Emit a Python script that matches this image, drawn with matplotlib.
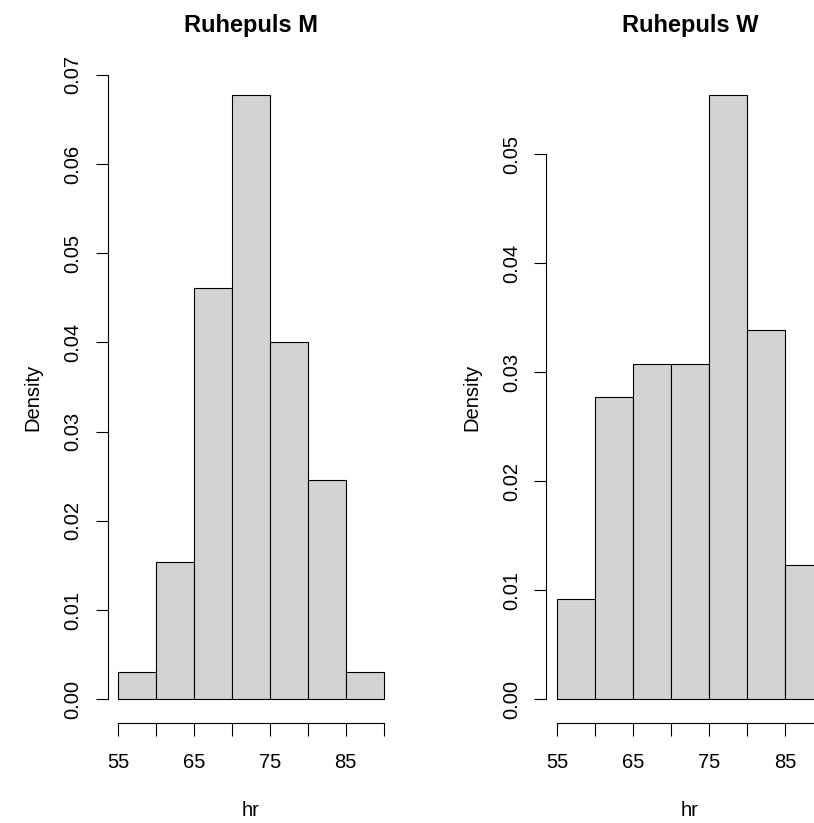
import numpy as np
import matplotlib.pyplot as plt

plt.rcParams['font.family'] = ['Liberation Sans', 'DejaVu Sans']

# Klassengrenzen und Haeufigkeiten (Ruhepuls, n = 65 je Gruppe)
edges = [55, 60, 65, 70, 75, 80, 85, 90]
counts_m = [1, 5, 15, 22, 13, 8, 1]
counts_w = [3, 9, 10, 10, 18, 11, 4]
xticks = [55, 60, 65, 70, 75, 80, 85, 90]
xlabels = ['55', '', '65', '', '75', '', '85', '']
yticks_m = [0.00, 0.01, 0.02, 0.03, 0.04, 0.05, 0.06, 0.07]
yticks_w = [0.00, 0.01, 0.02, 0.03, 0.04, 0.05]

fig = plt.figure(figsize=(8.14, 8.23), dpi=100)

def r_hist(rect, counts, yticks, title):
    ax = fig.add_axes(rect)
    ax.hist(edges[:-1], bins=edges, weights=counts, density=True,
            facecolor='#D3D3D3', edgecolor='black', linewidth=0.8)
    dens_max = max(counts) / (sum(counts) * 5)
    ax.set_xlim(55 - 1.4, 90 + 1.4)
    ax.set_ylim(-0.04 * dens_max, dens_max * 1.04)
    for s in ['top', 'right']:
        ax.spines[s].set_visible(False)
    ax.spines['left'].set_bounds(yticks[0], yticks[-1])
    ax.spines['bottom'].set_bounds(55, 90)
    ax.spines['left'].set_linewidth(0.8)
    ax.spines['bottom'].set_linewidth(0.8)
    ax.set_xticks(xticks)
    ax.set_xticklabels(xlabels)
    ax.set_yticks(yticks)
    ax.set_yticklabels([f'{v:.2f}' for v in yticks], rotation=90, va='center')
    ax.tick_params(axis='both', length=9, width=0.8, labelsize=14.5)
    ax.tick_params(axis='x', pad=12)
    ax.tick_params(axis='y', pad=9)
    ax.set_xlabel('hr', fontsize=14.5, labelpad=21)
    ax.set_ylabel('Density', fontsize=14.5, labelpad=15)
    ax.set_title(title, fontsize=17, fontweight='bold', pad=28)
    ax.patch.set_visible(False)
    return ax

r_hist([0.1323, 0.1209, 0.3521, 0.7925], counts_m, yticks_m, 'Ruhepuls M')
r_hist([0.6711, 0.1209, 0.3530, 0.7925], counts_w, yticks_w, 'Ruhepuls W')

fig.savefig('out.png', dpi=100)
